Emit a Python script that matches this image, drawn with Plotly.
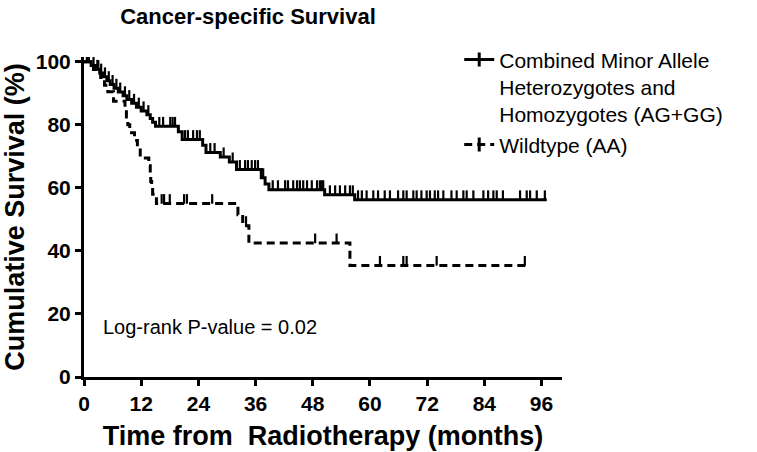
import plotly.graph_objects as go

# ---------------- data ----------------
x_ticks = [0, 12, 24, 36, 48, 60, 72, 84, 96]
y_ticks = [0, 20, 40, 60, 80, 100]

# Combined Minor Allele (AG+GG): event times (months) and survival (%) after each event
solid_event_t = [1.5, 2.5, 3.3, 4.0, 4.8, 5.5, 6.3, 7.2, 8.2, 9.0, 10.0, 11.0, 12.0,
                 13.2, 13.9, 14.4, 15.0, 19.8, 20.6, 24.9, 25.6, 28.6, 30.5, 32.0,
                 37.2, 38.0, 38.8, 50.5, 56.8]
solid_event_s = [98.8, 97.6, 96.4, 95.2, 94.0, 92.8, 91.6, 90.4, 89.2, 88.0, 86.8, 85.6, 84.4,
                 83.2, 82.0, 80.8, 79.5, 77.8, 75.3, 73.5, 71.2, 69.8, 68.2, 65.8,
                 63.2, 61.2, 59.4, 57.8, 56.2]
solid_end = 97.1
solid_censor_t = [0.6, 1.0, 2.0, 2.8, 3.6, 4.4, 5.2, 6.0, 6.8, 7.6, 8.6, 9.5, 10.5, 11.5,
                  12.5, 13.5, 15.8, 16.6, 18.1, 18.6, 19.1, 21.2, 21.8, 22.9, 23.7, 24.3,
                  26.5, 27.4, 29.3, 31.2, 32.7, 33.8, 34.4, 35.2, 35.9, 36.5, 37.6,
                  39.6, 40.7, 42.2, 42.8, 43.9, 44.7, 45.3, 46.0, 46.8, 47.8, 48.9, 49.5,
                  49.9, 50.2, 51.6, 52.7, 53.7, 54.8, 55.8, 56.4,
                  57.5, 58.3, 59.3, 60.7, 61.7, 63.1, 64.2, 65.9, 67.0, 67.7, 69.1, 69.8,
                  70.8, 71.9, 72.6, 73.6, 74.3, 75.4, 77.1, 78.2, 79.6, 80.3, 81.7, 83.8,
                  84.8, 85.9, 86.6, 87.9, 91.5, 92.9, 93.6, 95.0, 96.7]

# Wildtype (AA)
dashed_event_t = [2.0, 3.5, 4.3, 5.0, 6.2, 8.6, 8.9, 9.2, 9.6, 10.6, 11.2, 11.8, 13.6,
                  13.9, 14.0, 14.2, 14.4, 15.2, 32.3, 33.3, 34.6, 55.8]
dashed_event_s = [97.5, 95.0, 92.5, 90.5, 87.5, 85.0, 82.5, 80.0, 77.5, 75.0, 72.5, 69.5, 67.0,
                  64.5, 62.0, 60.0, 58.0, 55.0, 51.5, 48.0, 42.5, 35.4]
dashed_end = 93.0
dashed_censor_t = [1.0, 3.0, 16.3, 16.8, 18.0, 21.0, 21.6, 26.9, 34.0, 48.5, 53.0,
                   62.1, 67.0, 67.7, 74.0, 92.5]

labels = ["Combined Minor Allele<br>Heterozygotes and<br>Homozygotes (AG+GG)", "Wildtype (AA)"]

FONT = "Liberation Sans, Arial"


def step_xy(ev_t, ev_s, end):
    xs = [0] + list(ev_t) + [end]
    ys = [100] + list(ev_s) + [ev_s[-1]]
    return xs, ys


def surv_at(ts, ev_t, ev_s):
    out = []
    for t in ts:
        s = 100
        for et, es in zip(ev_t, ev_s):
            if et <= t:
                s = es
        out.append(s)
    return out


fig = go.Figure()

series = [
    (solid_event_t, solid_event_s, solid_end, solid_censor_t, "solid", labels[0]),
    (dashed_event_t, dashed_event_s, dashed_end, dashed_censor_t, "8px,5px", labels[1]),
]

for ev_t, ev_s, end, cen_t, dash, name in series:
    xs, ys = step_xy(ev_t, ev_s, end)
    fig.add_trace(go.Scatter(x=xs, y=ys, mode="lines", line_shape="hv",
                             line=dict(color="black", width=3, dash=dash),
                             showlegend=False, hoverinfo="skip"))
    fig.add_trace(go.Scatter(x=cen_t, y=surv_at(cen_t, ev_t, ev_s), mode="markers",
                             marker=dict(size=1, color="black"),
                             error_y=dict(type="constant", value=3.0, valueminus=0,
                                          symmetric=False, thickness=2.2, width=0,
                                          color="black"),
                             showlegend=False, hoverinfo="skip"))
    fig.add_trace(go.Scatter(x=[None], y=[None], mode="lines+markers", name=name,
                             line=dict(color="black", width=3, dash=dash),
                             marker=dict(symbol="line-ns-open", size=10, color="black",
                                         line=dict(width=3, color="black"))))

fig.add_annotation(x=3.5, y=16, xref="x", yref="y", text="Log-rank P-value = 0.02",
                   showarrow=False, xanchor="left", yanchor="middle",
                   font=dict(family=FONT, size=20, color="black"))

fig.update_layout(
    width=757, height=452,
    margin=dict(l=84, r=195, t=57, b=75),
    paper_bgcolor="white", plot_bgcolor="white",
    font=dict(family=FONT, color="black"),
    title=dict(text="<b>Cancer-specific Survival</b>", x=248 / 757, xanchor="center",
               y=1 - 16 / 452, yanchor="middle",
               font=dict(size=22, family=FONT, color="black")),
    legend=dict(x=0.785, y=1.055, xanchor="left", yanchor="top", valign="top",
                font=dict(size=21, family=FONT, color="black"),
                bgcolor="rgba(0,0,0,0)", tracegroupgap=2, itemwidth=30),
    showlegend=True,
)

fig.update_xaxes(range=[0, 100.3], tickvals=x_ticks, ticktext=[str(v) for v in x_ticks],
                 showline=True, linewidth=3, linecolor="black", ticks="outside",
                 ticklen=6, tickwidth=3, tickcolor="black", showgrid=False, zeroline=False,
                 automargin=False,
                 tickfont=dict(size=21, family=FONT, color="black", weight="bold"),
                 title=dict(text="<b>Time from  Radiotherapy (months)</b>", standoff=12,
                            font=dict(size=27, family=FONT, color="black")))
fig.update_yaxes(range=[0, 101.5], tickvals=y_ticks, ticktext=[str(v) for v in y_ticks],
                 showline=True, linewidth=3, linecolor="black", ticks="outside",
                 ticklen=6, tickwidth=3, tickcolor="black", showgrid=False, zeroline=False,
                 automargin=False,
                 tickfont=dict(size=21, family=FONT, color="black", weight="bold"),
                 title=dict(text="<b>Cumulative Survival (%)</b>", standoff=6,
                            font=dict(size=27, family=FONT, color="black")))

fig.write_html("out.html", config={"displayModeBar": False},
               post_script="document.body.style.margin='0';document.body.style.overflow='hidden';")
